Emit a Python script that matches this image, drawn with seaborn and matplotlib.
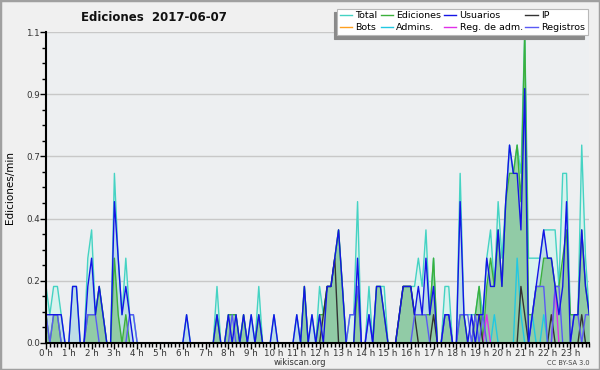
import seaborn as sns
import matplotlib
matplotlib.use("Agg")
import matplotlib.pyplot as plt
from matplotlib.lines import Line2D
from matplotlib.patches import Rectangle
import numpy as np

# edits per 10-minute bin, in tenths of an edit/min (144 bins, 0h .. 23h50)
total = [2, 1, 2, 2, 1, 0,  0, 2, 2, 0, 0, 3,  4, 1, 2, 1, 0, 0,  6, 3, 1, 3, 1, 1,
         0, 0, 0, 0, 0, 0,  0, 0, 0, 0, 0, 0,  0, 1, 0, 0, 0, 0,  0, 0, 0, 2, 0, 0,
         1, 1, 1, 0, 1, 0,  1, 0, 2, 0, 0, 0,  1, 0, 0, 0, 0, 0,  1, 0, 2, 0, 1, 0,
         2, 1, 2, 2, 3, 4,  2, 0, 1, 1, 5, 0,  0, 2, 0, 2, 2, 2,  0, 0, 0, 1, 2, 2,
         2, 2, 3, 2, 4, 1,  3, 0, 0, 2, 2, 0,  0, 6, 1, 1, 1, 1,  2, 1, 3, 4, 2, 5,
         3, 5, 7, 6, 7, 6,  11, 3, 3, 3, 3, 4,  4, 4, 4, 2, 6, 6,  1, 1, 1, 7, 3, 1]
ediciones = [1, 0, 1, 1, 0, 0,  0, 0, 0, 0, 0, 1,  1, 1, 2, 1, 0, 0,  3, 1, 0, 1, 0, 0,
             0, 0, 0, 0, 0, 0,  0, 0, 0, 0, 0, 0,  0, 0, 0, 0, 0, 0,  0, 0, 0, 1, 0, 0,
             1, 1, 1, 0, 1, 0,  0, 0, 1, 0, 0, 0,  0, 0, 0, 0, 0, 0,  0, 0, 2, 0, 0, 0,
             1, 1, 2, 2, 3, 4,  2, 0, 0, 0, 2, 0,  0, 0, 0, 2, 2, 1,  0, 0, 0, 1, 2, 2,
             2, 1, 1, 1, 1, 1,  3, 0, 0, 1, 1, 0,  0, 1, 1, 0, 0, 1,  2, 0, 2, 3, 2, 4,
             2, 5, 6, 6, 7, 5,  11, 1, 1, 2, 2, 3,  3, 3, 2, 2, 3, 4,  1, 1, 1, 4, 2, 1]
usuarios = [1, 1, 1, 1, 1, 0,  0, 2, 2, 0, 0, 2,  3, 1, 2, 1, 0, 0,  5, 3, 1, 2, 1, 0,
            0, 0, 0, 0, 0, 0,  0, 0, 0, 0, 0, 0,  0, 1, 0, 0, 0, 0,  0, 0, 0, 1, 0, 0,
            1, 0, 1, 0, 1, 0,  1, 0, 1, 0, 0, 0,  1, 0, 0, 0, 0, 0,  1, 0, 2, 0, 1, 0,
            1, 0, 2, 2, 3, 4,  2, 0, 0, 0, 3, 0,  0, 1, 0, 2, 2, 1,  0, 0, 0, 1, 2, 2,
            2, 1, 2, 1, 3, 1,  2, 0, 0, 1, 1, 0,  0, 5, 1, 0, 1, 0,  1, 1, 3, 2, 2, 4,
            2, 5, 7, 6, 6, 4,  9, 0, 1, 2, 3, 4,  3, 3, 2, 1, 2, 5,  0, 1, 1, 4, 2, 1]
ip = [0] * 72 + [0, 1, 2, 2, 3, 0] + [0] * 12 + [0, 0, 0, 1, 2, 2] + [2, 1, 0, 0, 0, 0] + \
     [1, 0, 0, 0, 0, 0] + [0, 0, 0, 0, 0, 1] + [1, 0, 0, 0, 0, 0] + [0, 0, 0, 0, 0, 2] + \
     [1, 0, 0, 0, 0, 0] + [0, 1, 0, 0, 0, 0] + [0, 0, 0, 1, 0, 0]
bots = [0] * 144
admins = [0] * 118 + [1, 0, 0, 0, 0, 0, 3, 1, 0, 0, 1, 0, 0, 1] + [0] * 12
reg_adm = [0] * 116 + [1] + [0] * 17 + [2] + [0] * 9
registros = [1, 0, 1, 1, 0, 0,  0, 0, 0, 0, 0, 1,  1, 1, 0, 0, 0, 0,  0, 0, 0, 0, 1, 1,
             0, 0, 0, 0, 0, 0,  0, 0, 0, 0, 0, 0,  0, 0, 0, 0, 0, 0,  0, 0, 0, 0, 0, 0,
             0, 1, 0, 0, 0, 0,  0, 0, 0, 0, 0, 0,  0, 0, 0, 0, 0, 0,  0, 0, 0, 0, 0, 0,
             0, 0, 0, 0, 0, 0,  0, 0, 1, 1, 2, 0,  0, 1, 0, 0, 0, 0,  0, 0, 0, 0, 0, 0,
             0, 1, 1, 1, 1, 0,  0, 0, 0, 1, 1, 0,  0, 1, 1, 1, 0, 1,  0, 1, 0, 0, 0, 0,
             0, 0, 0, 0, 0, 0,  0, 0, 1, 2, 2, 2,  0, 0, 2, 2, 0, 0,  0, 1, 1, 0, 1, 1]

hour_labels = [f"{h} h" for h in range(24)]
ytick_vals = [0.0, 0.22, 0.44, 0.66, 0.88, 1.1]
ytick_labels = ["0.0", "0.2", "0.4", "0.7", "0.9", "1.1"]

x = np.arange(144)
def rate(v):
    return np.array(v) / 10.0

plt.rcParams['font.family'] = ['DejaVu Sans']
fig = plt.figure(figsize=(6, 3.7), dpi=100, facecolor='#f0f0f0')
ax = fig.add_axes([0.0767, 0.073, 0.9055, 0.8405])
ax.set_facecolor('#edeff1')

# fills
ax.fill_between(x, rate(total), color='#d9f2ee', lw=0, zorder=1)
ax.fill_between(x, rate(usuarios), color='#a9cde3', alpha=0.55, lw=0, zorder=1.1)
ax.fill_between(x, rate(ediciones), color='#66bb66', alpha=0.5, lw=0, zorder=1.2)

series = [
    ("Total", total, '#45d3c3'),
    ("Bots", bots, '#ffa020'),
    ("Ediciones", ediciones, '#3cb03c'),
    ("Admins.", admins, '#22c8e2'),
    ("Usuarios", usuarios, '#1414e6'),
    ("Reg. de adm.", reg_adm, '#e030e8'),
    ("IP", ip, '#333333'),
    ("Registros", registros, '#5a5af5'),
]
draw_order = ["Total", "Bots", "Ediciones", "Admins.", "Reg. de adm.", "IP", "Registros", "Usuarios"]
lookup = {n: (v, c) for n, v, c in series}
for name in draw_order:
    v, c = lookup[name]
    sns.lineplot(x=x, y=rate(v), color=c, lw=1.0, ax=ax, legend=False, zorder=2)

ax.set_xlim(0, 143)
ax.set_ylim(0, 1.1)
ax.set_xticks(np.arange(0, 144, 6))
ax.set_xticklabels(hour_labels)
ax.set_xticks(np.arange(0, 144, 1), minor=True)
ax.set_yticks(ytick_vals)
ax.set_yticklabels(ytick_labels)
ax.set_yticks(np.arange(0, 1.1001, 0.055), minor=True)
ax.tick_params(axis='both', which='major', length=4, width=1, labelsize=6.3,
               labelcolor='#333333', pad=0.5)
ax.tick_params(axis='both', which='minor', length=3, width=1)
ax.grid(axis='y', which='major', color='#c8c8c8', lw=1)
ax.set_axisbelow(True)
for s in ['top', 'right']:
    ax.spines[s].set_visible(False)
for s in ['left', 'bottom']:
    ax.spines[s].set_linewidth(1.5)
    ax.spines[s].set_zorder(3)
ax.set_xlabel('')
ax.set_ylabel('Ediciones/min', fontsize=7.5, labelpad=8)

handles = [Line2D([], [], color=c, lw=1) for n, v, c in series]
labels = [n for n, v, c in series]
leg = fig.legend(handles, labels, ncol=4, loc='upper right', bbox_to_anchor=(0.983, 0.982),
                 fontsize=6.8, frameon=True, fancybox=False, handlelength=1.3,
                 handletextpad=0.35, columnspacing=0.3, labelspacing=0.3, borderpad=0.3,
                 borderaxespad=0.2,
                 shadow={'ox': -2.5, 'oy': -2.5, 'facecolor': '#8a8a8a', 'edgecolor': '#8a8a8a', 'alpha': 1.0})
leg.get_frame().set_edgecolor('#b8b8b8')
leg.get_frame().set_linewidth(0.8)

fig.text(0.257, 0.953, 'Ediciones  2017-06-07', ha='center', va='center',
         fontsize=8.5, fontweight='bold', color='#111111')
fig.text(0.5, 0.02, 'wikiscan.org', ha='center', va='center', fontsize=6, color='#333333')
fig.text(0.983, 0.02, 'CC BY-SA 3.0', ha='right', va='center', fontsize=4.8, color='#444444')
fig.patches.append(Rectangle((0, 0), 1, 1, transform=fig.transFigure, fill=False,
                             edgecolor='#a0a0a0', lw=2.5))

plt.savefig('out.png', dpi=100, facecolor=fig.get_facecolor())
